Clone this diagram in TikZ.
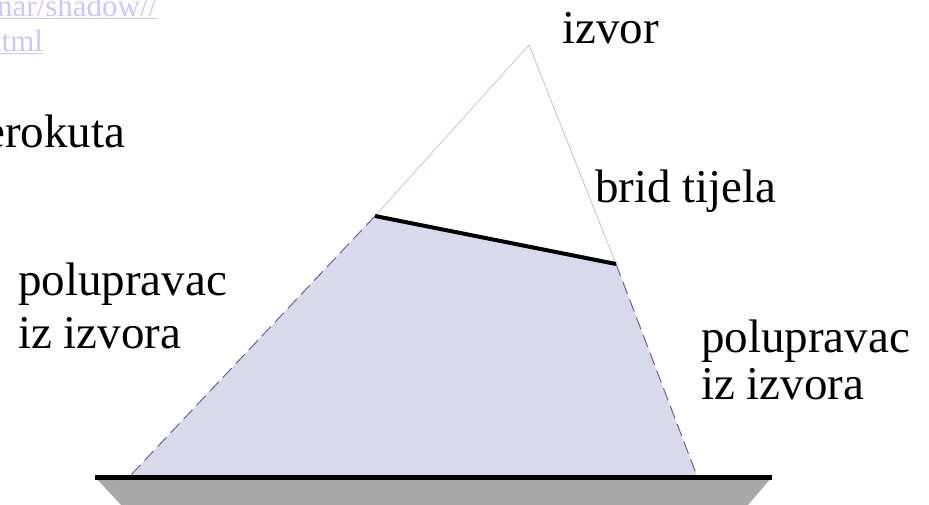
\documentclass[tikz,border=0pt]{standalone}
\usepackage{fontspec}
\setmainfont{Liberation Serif}
\begin{document}
\begin{tikzpicture}[x=1pt,y=-1pt,
  lbl/.style={inner sep=0pt,anchor=base west,font=\fontsize{47}{54}\selectfont},
  lnk/.style={inner sep=0pt,anchor=base west,text=linkblue,font=\fontsize{31}{36}\selectfont},
  ray/.style={draw=raypurple,line width=1pt,dash pattern=on 13pt off 6pt},
  thin/.style={line width=0.9pt}]
\definecolor{linkblue}{RGB}{200,200,255}
\definecolor{shadefill}{RGB}{217,217,236}
\definecolor{raypurple}{RGB}{120,90,160}
\definecolor{lavline}{RGB}{200,200,235}
\definecolor{grayline}{RGB}{200,200,200}
\definecolor{floorgray}{RGB}{169,169,169}
\useasboundingbox (0,0) rectangle (929,505);
% points
\coordinate (src) at (529,45);
\coordinate (e1) at (375,216);
\coordinate (e2) at (616,264);
\coordinate (g1) at (130,476);
\coordinate (g2) at (697,476);
\coordinate (f1) at (95,477);
\coordinate (f2) at (772,477);
\coordinate (f3) at (748,505);
\coordinate (f4) at (121,505);
% floor
\fill[floorgray] (f1) -- (f2) -- (f3) -- (f4) -- cycle;
% shadow
\fill[shadefill] (e1) -- (e2) -- (g2) -- (g1) -- cycle;
\draw[ray] (e1) -- (g1);
\draw[ray] (e2) -- (g2);
% light rays from source
\draw[thin,draw=lavline] (src) -- (e1);
\draw[thin,draw=grayline] (src) -- (e2);
% edge of body
\draw[line width=4pt] (e1) -- (e2);
% floor edge
\draw[line width=5pt] (f1) -- (f2);
% labels
\node[lbl] (izvor) at (562,44) {izvor};
\node[lbl] (brid) at (595,203) {brid tijela};
\node[lbl] (ero) at (-16,148) {erokuta};
\node[lbl] (lp1) at (18,295) {polupravac};
\node[lbl] (lp2) at (18,348) {iz izvora};
\node[lbl] (rp1) at (701,352) {polupravac};
\node[lbl] (rp2) at (701,399) {iz izvora};
\node[lnk] (url1) at (-3,17) {\underline{nar/shadow//}};
\node[lnk] (url2) at (-14,52) {\underline{html}};
\end{tikzpicture}
\end{document}
